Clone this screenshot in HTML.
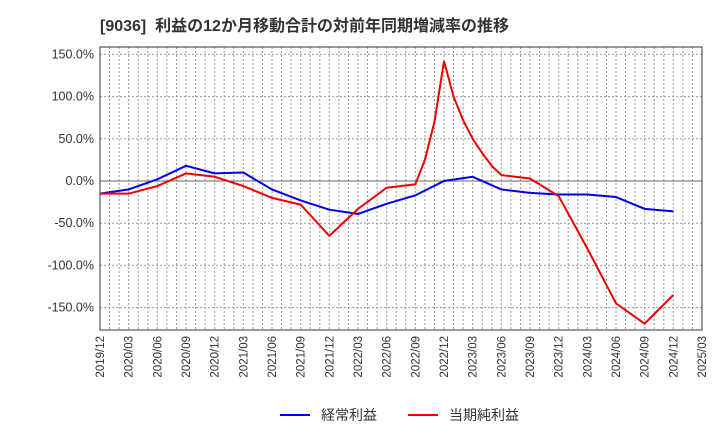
<!DOCTYPE html>
<html><head><meta charset="utf-8"><style>
body{margin:0;background:#fff;}
text{font-family:"Liberation Sans","Noto Sans CJK JP",sans-serif;}
</style></head><body>
<svg id="c" width="720" height="440" xmlns="http://www.w3.org/2000/svg">
<text x="100" y="31" font-size="16" font-weight="bold" fill="#333" xml:space="preserve">[9036]  利益の12か月移動合計の対前年同期増減率の推移</text>
<g id="grid"></g><g id="axes"></g><g id="series"></g>
<g>
<line x1="280" y1="415" x2="310" y2="415" stroke="#0000ee" stroke-width="2"/>
<text x="321" y="420" font-size="14" fill="#333">経常利益</text>
<line x1="408" y1="415" x2="438" y2="415" stroke="#ee0000" stroke-width="2"/>
<text x="449" y="420" font-size="14" fill="#333">当期純利益</text>
</g>
</svg>
<script>
const xLabels=["2019/12","2020/03","2020/06","2020/09","2020/12","2021/03","2021/06","2021/09","2021/12","2022/03","2022/06","2022/09","2022/12","2023/03","2023/06","2023/09","2023/12","2024/03","2024/06","2024/09","2024/12","2025/03"];
const yTicks=[150,100,50,0,-50,-100,-150];
const blueX=[0,1,2,3,4,5,6,7,8,9,10,11,12,13,14,15,16,17,18,19,20];
const blueY=[-15,-10,2,18,9,10,-10,-23,-34,-39,-27,-17,0,5,-10,-14,-16,-16,-19,-33,-36];
const redX=[0,1,2,3,4,5,6,7,8,9,10,11,11.333,11.667,12,12.333,12.667,13,13.333,13.667,14,15,16,17,18,19,20];
const redY=[-15,-15,-6,9,5,-6,-20,-28,-65,-33,-8,-4,25,70,142,100,72,50,33,18,7,3,-18,-80,-145,-169,-135];
const L=100,R=702,T=47,B=330;
const xs=i=>L+i*(R-L)/21;
const ys=v=>181-v*42.2/50;
const ns="http://www.w3.org/2000/svg";
function mk(t,a,p){const e=document.createElementNS(ns,t);for(const k in a)e.setAttribute(k,a[k]);p.appendChild(e);return e;}
const g=document.getElementById('grid'),ax=document.getElementById('axes'),s=document.getElementById('series');
for(let m=1;m<63;m++){const x=L+m*(R-L)/63;const l=mk('line',{x1:x,y1:T,x2:x,y2:B,stroke:'#999','stroke-dasharray':'2,2'},g);}
yTicks.forEach(v=>{const y=ys(v);const l=mk('line',{x1:L,y1:y,x2:R,y2:y,stroke:v===0?'#666':'#999','stroke-dasharray':v===0?'':'2,2'},g);
const t=mk('text',{x:L-6,y:y+4,'font-size':12.5,'text-anchor':'end',fill:'#333'},ax);t.textContent=v.toFixed(1)+'%';});
const fr=mk('rect',{x:L,y:T,width:R-L,height:B-T,fill:'none',stroke:'#333'},ax);
xLabels.forEach((lb,i)=>{const x=xs(i);const t=mk('text',{x:x+4,y:B+6,'font-size':11.5,'text-anchor':'end',fill:'#333',transform:`rotate(-90 ${x+4} ${B+6})`},ax);t.textContent=lb;});
function line(X,Y,c,n){const p=mk('polyline',{points:X.map((x,i)=>xs(x)+','+ys(Y[i])).join(' '),fill:'none',stroke:c,'stroke-width':2},s);}
line(blueX,blueY,'#0000ee','keijo-line');
line(redX,redY,'#ee0000','junri-line');
</script>
</body></html>
